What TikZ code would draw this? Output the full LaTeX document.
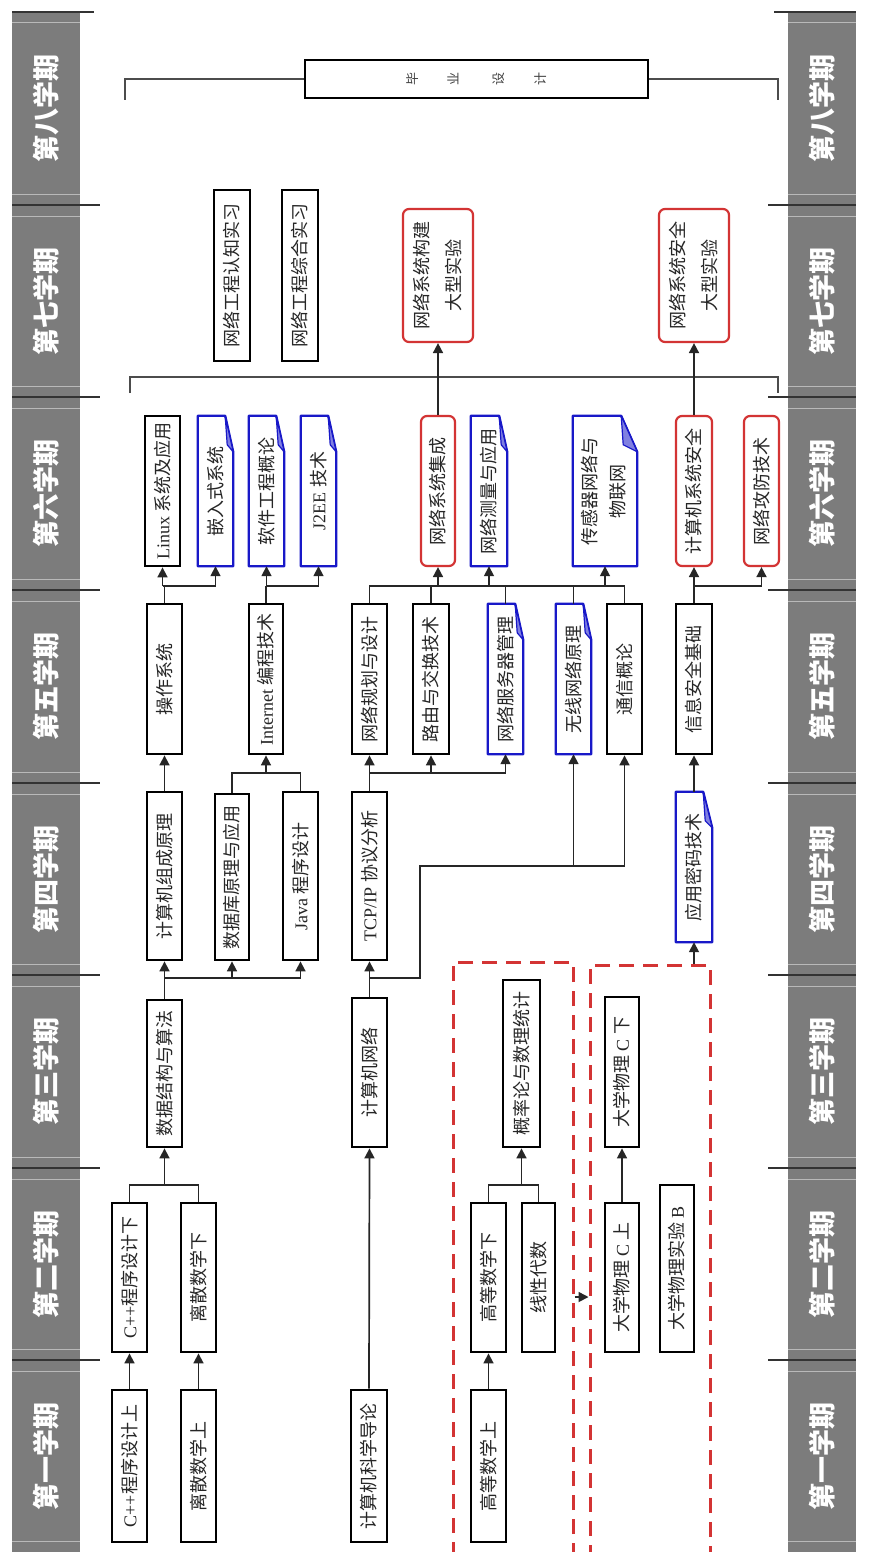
\documentclass[tikz,border=0pt]{standalone}
\usepackage{fontspec}
\setmainfont{Liberation Serif}
\newfontfamily\cjk{Noto Sans CJK SC}
\newfontfamily\lat{Liberation Serif}
\usetikzlibrary{arrows.meta}
\definecolor{bandgray}{HTML}{7C7C7C}
\definecolor{myred}{HTML}{D33434}
\definecolor{myblue}{HTML}{1818C8}
\tikzset{
  cbase/.style={inner sep=0pt, font=\cjk\fontsize{18}{32}\selectfont, text=black!85},
  blk/.style={cbase, draw=black, line width=2.8pt},
  rdb/.style={cbase, draw=myred, line width=2.2pt, rounded corners=6pt},
  blu/.style={cbase},
  conn/.style={line width=1.7pt, draw=black!85},
  arr/.style={conn, -{Triangle[length=10pt,width=10pt]}},
  brk/.style={line width=1.5pt, draw=black!70},
  dashbox/.style={draw=myred, line width=3pt, dash pattern=on 15pt off 9pt, inner sep=0pt},
  semlab/.style={text=white, font=\cjk\bfseries\fontsize{27}{28}\selectfont, inner sep=0pt},
}
\newcommand\cb[7][]{\node[#1, minimum width={(#5-#3)*1pt}, minimum height={(#6-#4)*1pt}] (#2) at ({(#3+#5)/2},{(#4+#6)/2}) {\rotatebox{90}{#7}};}
\newcommand\fold[2][8]{%
  \draw[myblue, line width=2.3pt, line join=round] (#2.north west) -- ([xshift=-#1pt]#2.north east) -- ([yshift=-36pt]#2.north east) -- (#2.south east) -- (#2.south west) -- cycle;
  \filldraw[fill=myblue!55, draw=myblue, line width=1.2pt, line join=round] ([xshift=-#1pt]#2.north east) -- ([xshift={-#1pt+2pt},yshift=-29pt]#2.north east) -- ([yshift=-36pt]#2.north east) -- cycle;}
\newcommand\twol[2]{\begin{tabular}{@{}c@{}}#1\\#2\end{tabular}}
\begin{document}
\begin{tikzpicture}[x=1pt,y=-1pt]
\useasboundingbox (0,0) rectangle (868,1552);
\fill[white] (0,0) rectangle (868,1552);
% ---------- semester bands ----------
\foreach \ya/\yb/\lab in {12/205/第八学期,205/397/第七学期,397/590/第六学期,590/783/第五学期,783/975/第四学期,975/1168/第三学期,1168/1360/第二学期,1360/1552/第一学期}{
  \fill[bandgray] (12,\ya) rectangle (80,\yb);
  \fill[bandgray] (788,\ya) rectangle (856,\yb);
  \draw[gray!55, line width=1pt] (12,\ya+11) -- (80,\ya+11) (12,\yb-11) -- (80,\yb-11);
  \draw[gray!55, line width=1pt] (788,\ya+11) -- (856,\ya+11) (788,\yb-11) -- (856,\yb-11);
  \node[semlab] (semL\yb) at (46,{(\ya+\yb)/2}) {\rotatebox{90}{\lab}};
  \node[semlab] (semR\yb) at (822,{(\ya+\yb)/2}) {\rotatebox{90}{\lab}};
}
\foreach \yb in {205,397,590,783,975,1168,1360}{
  \draw[gray!40!black, line width=1.2pt] (12,\yb) -- (100,\yb);
  \draw[gray!40!black, line width=1.2pt] (768,\yb) -- (856,\yb);
}
\draw[gray!40!black, line width=1.2pt] (12,12) -- (94,12) (774,12) -- (856,12);
% ---------- red dashed groups ----------
\node[dashbox, minimum width=120pt, minimum height=620pt] (rd1) at (513,1272) {};
\node[dashbox, minimum width=120pt, minimum height=620pt] (rd2) at (650,1275) {};
% ---------- semester 8 ----------
\node[blk, minimum width=343pt, minimum height=38pt, font=\cjk\fontsize{13}{14}\selectfont, text=black!75] (bysj) at (476.5,79) {\rotatebox{90}{毕}\hspace{30pt}\rotatebox{90}{业}\hspace{34pt}\rotatebox{90}{设}\hspace{30pt}\rotatebox{90}{计}};
% ---------- semester 7 ----------
\cb[blk]{rz}{214}{190}{250}{361}{网络工程认知实习}
\cb[blk]{zh}{282}{190}{318}{361}{网络工程综合实习}
\cb[rdb]{gj}{403}{209}{473}{342}{\twol{网络系统构建}{大型实验}}
\cb[rdb]{aq7}{659}{209}{729}{342}{\twol{网络系统安全}{大型实验}}
% ---------- semester 6 ----------
\cb[blk]{linux}{145}{416}{180}{566}{{\lat Linux} 系统及应用}
\cb[blu]{qrs}{198}{416}{233}{566}{嵌入式系统}
\cb[blu]{rjgc}{249}{416}{284}{566}{软件工程概论}
\cb[blu]{j2ee}{301}{416}{336}{566}{{\lat J2EE} 技术}
\cb[rdb]{jc}{421}{416}{455}{566}{网络系统集成}
\cb[blu]{cl}{471}{416}{507}{566}{网络测量与应用}
\cb[blu]{cgq}{573}{416}{637}{566}{\fontsize{18}{28}\selectfont\twol{传感器网络与}{物联网}}
\cb[rdb]{jsjaq}{676}{416}{712}{566}{计算机系统安全}
\cb[rdb]{gf}{744}{416}{779}{566}{网络攻防技术}
\fold{qrs}\fold{rjgc}\fold{j2ee}\fold{cl}\fold[16]{cgq}
% ---------- semester 5 ----------
\cb[blk]{czxt}{147}{604}{182}{754}{操作系统}
\cb[blk]{inet}{249}{604}{283}{754}{{\lat Internet} 编程技术}
\cb[blk]{ghsj}{352}{604}{387}{754}{网络规划与设计}
\cb[blk]{lyjh}{413}{604}{449}{754}{路由与交换技术}
\cb[blu]{fwq}{488}{604}{523}{754}{网络服务器管理}
\cb[blu]{wx}{556}{604}{591}{754}{无线网络原理}
\cb[blk]{tx}{607}{604}{642}{754}{通信概论}
\cb[blk]{xxaq}{676}{604}{712}{754}{信息安全基础}
\fold{fwq}\fold{wx}
% ---------- semester 4 ----------
\cb[blk]{zc}{147}{792}{182}{960}{计算机组成原理}
\cb[blk]{sjk}{215}{794}{249}{960}{数据库原理与应用}
\cb[blk]{java}{283}{792}{318}{960}{{\lat Java} 程序设计}
\cb[blk]{tcp}{352}{792}{387}{960}{{\lat TCP/IP} 协议分析}
\cb[blu]{mm}{676}{792}{712}{942}{应用密码技术}
\fold[9]{mm}
% ---------- semester 3 ----------
\cb[blk]{sjjg}{147}{1000}{182}{1147}{数据结构与算法}
\cb[blk]{jsjwl}{352}{998}{387}{1147}{计算机网络}
\cb[blk]{gl}{503}{980}{540}{1147}{概率论与数理统计}
\cb[blk]{wl2}{605}{997}{639}{1147}{大学物理 {\lat C} 下}
% ---------- semester 2 ----------
\cb[blk]{cpp2}{112}{1203}{147}{1352}{{\lat C++}程序设计下}
\cb[blk]{ls2}{181}{1203}{216}{1352}{离散数学下}
\cb[blk]{gs2}{471}{1203}{506}{1352}{高等数学下}
\cb[blk]{xd}{522}{1203}{555}{1352}{线性代数}
\cb[blk]{wl1}{605}{1203}{639}{1352}{大学物理 {\lat C} 上}
\cb[blk]{wlsy}{660}{1185}{694}{1352}{大学物理实验 {\lat B}}
% ---------- semester 1 ----------
\cb[blk]{cpp1}{112}{1390}{147}{1542}{{\lat C++}程序设计上}
\cb[blk]{ls1}{181}{1390}{216}{1542}{离散数学上}
\cb[blk]{dl}{351}{1390}{387}{1542}{计算机科学导论}
\cb[blk]{gs1}{471}{1390}{506}{1542}{高等数学上}
% ---------- junction levels ----------
\coordinate (y1185) at (0,1185);
\coordinate (y1297) at (0,1297);
\coordinate (y978) at (0,978);
\coordinate (y866) at (0,866);
\coordinate (y773) at (0,773);
\coordinate (y586) at (0,586);
\coordinate (y377) at (0,377);
\coordinate (k1) at (420,978);
\coordinate (k2) at (420,866);
\coordinate (b7a) at (130,393);
\coordinate (b7b) at (130,377);
\coordinate (b7c) at (778,377);
\coordinate (b7d) at (778,393);
\coordinate (b8a) at (125,100);
\coordinate (b8b) at (125,79);
\coordinate (b8c) at (778,79);
\coordinate (b8d) at (778,100);
% ---------- sem1 -> sem2/3 ----------
\draw[arr] (cpp1.north) -- (cpp2.south);
\draw[arr] (ls1.north) -- (ls2.south);
\draw[arr] (gs1.north) -- (gs2.south);
\draw[arr] (dl.north) -- (jsjwl.south);
% ---------- sem2 -> sem3 ----------
\draw[conn] (cpp2.north) -- (cpp2.north |- y1185) -- (ls2.north |- y1185) -- (ls2.north);
\draw[arr] (sjjg.south |- y1185) -- (sjjg.south);
\draw[conn] (gs2.north) -- (gs2.north |- y1185) -- (xd.north |- y1185) -- (xd.north);
\draw[arr] (gl.south |- y1185) -- (gl.south);
\draw[arr] (wl1.north) -- (wl2.south);
\draw[arr] (rd1.east |- y1297) -- (rd2.west |- y1297);
% ---------- sem3 -> sem4 ----------
\draw[conn] (sjjg.north) -- (sjjg.north |- y978) -- (java.south |- y978);
\draw[arr] (sjjg.north |- y978) -- (zc.south);
\draw[arr] (sjk.south |- y978) -- (sjk.south);
\draw[arr] (java.south |- y978) -- (java.south);
\draw[arr] (jsjwl.north) -- (tcp.south);
\draw[conn] (jsjwl.north |- y978) -- (k1) -- (k2) -- (tx.south |- y866);
\draw[arr] (wx.south |- y866) -- (wx.south);
\draw[arr] (tx.south |- y866) -- (tx.south);
\draw[arr] (rd2.north -| mm.south) -- (mm.south);
\draw[arr] (mm.north) -- (xxaq.south);
% ---------- sem4 -> sem5 ----------
\draw[arr] (zc.north) -- (czxt.south);
\draw[conn] (sjk.north) -- (sjk.north |- y773) -- (java.north |- y773) -- (java.north);
\draw[arr] (inet.south |- y773) -- (inet.south);
\draw[conn] (tcp.north) -- (tcp.north |- y773) -- (fwq.south |- y773);
\draw[arr] (ghsj.south |- y773) -- (ghsj.south);
\draw[arr] (lyjh.south |- y773) -- (lyjh.south);
\draw[arr] (fwq.south |- y773) -- (fwq.south);
% ---------- sem5 -> sem6 ----------
\draw[conn] (czxt.north) -- (czxt.north |- y586);
\draw[conn] (linux.south |- y586) -- (qrs.south |- y586);
\draw[arr] (linux.south |- y586) -- (linux.south);
\draw[arr] (qrs.south |- y586) -- (qrs.south);
\draw[conn] (inet.north) -- (inet.north |- y586);
\draw[conn] (rjgc.south |- y586) -- (j2ee.south |- y586);
\draw[arr] (rjgc.south |- y586) -- (rjgc.south);
\draw[arr] (j2ee.south |- y586) -- (j2ee.south);
\draw[conn] (ghsj.north) -- (ghsj.north |- y586) -- (tx.north |- y586) -- (tx.north);
\draw[conn] (lyjh.north) -- (lyjh.north |- y586);
\draw[conn] (fwq.north) -- (fwq.north |- y586);
\draw[conn] (wx.north) -- (wx.north |- y586);
\draw[arr] (jc.south |- y586) -- (jc.south);
\draw[arr] (cl.south |- y586) -- (cl.south);
\draw[arr] (cgq.south |- y586) -- (cgq.south);
\draw[conn] (xxaq.north) -- (xxaq.north |- y586) -- (gf.south |- y586);
\draw[arr] (jsjaq.south |- y586) -- (jsjaq.south);
\draw[arr] (gf.south |- y586) -- (gf.south);
% ---------- sem6 -> sem7 ----------
\draw[brk] (b7a) -- (b7b) -- (b7c) -- (b7d);
\draw[conn] (jc.north) -- (jc.north |- y377);
\draw[conn] (jsjaq.north) -- (jsjaq.north |- y377);
\draw[arr] (gj.south |- y377) -- (gj.south);
\draw[arr] (aq7.south |- y377) -- (aq7.south);
% ---------- sem7 -> sem8 ----------
\draw[brk] (b8a) -- (b8b) -- (bysj.west);
\draw[brk] (bysj.east) -- (b8c) -- (b8d);
\end{tikzpicture}
\end{document}
